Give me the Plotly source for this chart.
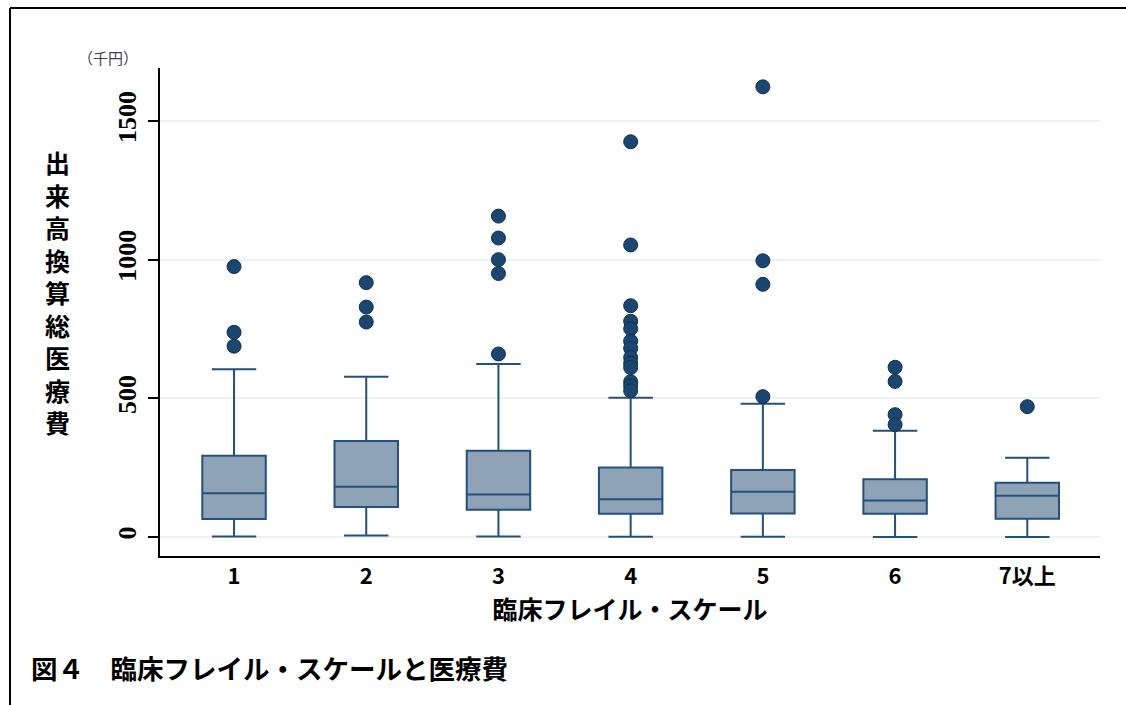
import plotly.graph_objects as go

categories = ["1", "2", "3", "4", "5", "6", "7以上"]
q1 = [65, 108, 98, 84, 85, 84, 66]
median = [158, 181, 153, 136, 163, 132, 149]
q3 = [293, 346, 311, 251, 242, 208, 196]
lower_whisker = [2, 5, 2, 1, 1, 0, 0]
upper_whisker = [605, 578, 624, 502, 480, 383, 286]
outliers = {
    "1": [975, 738, 688],
    "2": [917, 829, 775],
    "3": [1157, 1078, 1000, 950, 660],
    "4": [1425, 1053, 834, 778, 751, 706, 680, 647, 626, 611, 560, 545, 527],
    "5": [1623, 996, 911, 506],
    "6": [612, 561, 441, 405],
    "7以上": [470],
}
y_ticks = [0, 500, 1000, 1500]

line_c = "#23507c"
fill_c = "#8fa3b7"
dot_c = "#1b4670"
jp = "Noto Sans CJK JP"

fig = go.Figure()
fig.add_trace(go.Box(
    x=categories, q1=q1, median=median, q3=q3,
    lowerfence=lower_whisker, upperfence=upper_whisker,
    width=0.48, whiskerwidth=0.7,
    fillcolor=fill_c, line=dict(color=line_c, width=2),
    boxpoints=False, showlegend=False, hoverinfo="skip",
))
ox, oy = [], []
for c in categories:
    for v in outliers[c]:
        ox.append(c)
        oy.append(v)
fig.add_trace(go.Scatter(
    x=ox, y=oy, mode="markers", showlegend=False, hoverinfo="skip",
    marker=dict(color=dot_c, size=14, line=dict(color="#10304f", width=1)),
))

# body margin is removed by post_script, so figure coords = screen coords
W, H = 1126, 705
L, T = 160, 68
R = W - 1100
B = H - 556
pw, ph = W - L - R, H - T - B
def px(x): return (x - L) / pw
def py(y): return (H - B - y) / ph

fig.update_layout(
    width=W, height=H,
    margin=dict(l=L, r=R, t=T, b=B, autoexpand=False),
    paper_bgcolor="white", plot_bgcolor="white",
    font=dict(family=jp, color="black"),
    hovermode=False,
    xaxis=dict(
        type="category", categoryorder="array", categoryarray=categories,
        range=[-0.56, 6.55], showgrid=False, zeroline=False,
        showline=True, linecolor="black", linewidth=2,
        ticks="", tickfont=dict(family=jp, size=22, weight="bold", color="black"),
        title=dict(text="臨床フレイル・スケール", font=dict(family=jp, size=25, weight="bold"), standoff=2),
    ),
    yaxis=dict(
        range=[-68.5, 1691], tickvals=y_ticks, ticktext=[str(v) for v in y_ticks],
        showgrid=True, gridcolor="#edf2f2", gridwidth=2, zeroline=False,
        showline=True, linecolor="black", linewidth=2,
        ticks="outside", ticklen=10, tickwidth=1.5, tickcolor="black",
        tickangle=-90, ticklabelstandoff=2,
        tickfont=dict(family="Liberation Sans Narrow", size=26, weight="bold", color="black"),
    ),
)

fig.add_annotation(
    xref="paper", yref="paper", x=px(57), y=py(292),
    text="<br>".join(list("出来高換算総医療費")),
    showarrow=False, font=dict(family=jp, size=25, weight="bold", color="black"),
    xanchor="center", yanchor="middle",
)
fig.add_annotation(
    xref="paper", yref="paper", x=px(108), y=py(57),
    text="（千円）", showarrow=False,
    font=dict(family=jp, size=15, color="#444444"),
    xanchor="center", yanchor="middle",
)
fig.add_annotation(
    xref="paper", yref="paper", x=px(29), y=py(667),
    text="図４　臨床フレイル・スケールと医療費", showarrow=False,
    font=dict(family=jp, size=26.5, weight="bold", color="black"),
    xanchor="left", yanchor="middle",
)
# outer frame lines (left and top)
fig.add_shape(type="line", xref="paper", yref="paper",
              x0=px(10), x1=px(10), y0=py(8), y1=py(706),
              line=dict(color="black", width=2))
fig.add_shape(type="line", xref="paper", yref="paper",
              x0=px(10), x1=px(1127), y0=py(8), y1=py(8),
              line=dict(color="black", width=2))

fig.write_html(
    "out.html",
    config={"displayModeBar": False},
    post_script="document.body.style.margin='0';document.body.style.overflow='hidden';",
)
